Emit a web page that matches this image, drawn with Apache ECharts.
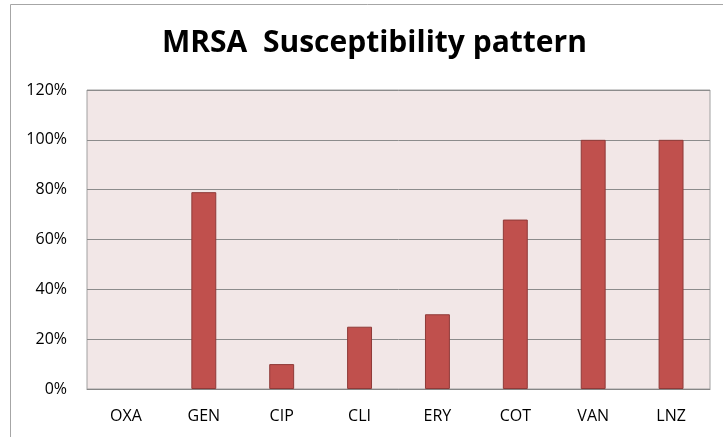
<!DOCTYPE html>
<html>
<head>
<meta charset="utf-8">
<script src="https://cdn.jsdelivr.net/npm/echarts@6/dist/echarts.min.js"></script>
<style>
  html, body { margin: 0; padding: 0; background: #fff; }
  #chart { width: 723px; height: 437px; }
</style>
</head>
<body>
<div id="chart"></div>
<script>
// data
var drugs = ["OXA", "GEN", "CIP", "CLI", "ERY", "COT", "VAN", "LNZ"];
var susceptible = [0, 79, 10, 25, 30, 68, 100, 100];

var chart = echarts.init(document.getElementById("chart"));

// zero bars get no outline, so nothing shows up for OXA
var barData = susceptible.map(function (v) {
  return v === 0 ? { value: v, itemStyle: { borderWidth: 0 } } : v;
});

var option = {
  backgroundColor: "#ffffff",
  animation: false,
  title: {
    text: "MRSA  Susceptibility pattern",
    left: 157,
    top: 23,
    textStyle: {
      fontFamily: "Open Sans",
      fontWeight: "bold",
      fontSize: 30,
      color: "#000"
    }
  },
  // outer chart frame
  graphic: [
    {
      type: "rect",
      shape: { x: 10.5, y: 4.5, width: 760, height: 480 },
      style: { fill: null, stroke: "#a6a6a6", lineWidth: 1 },
      silent: true
    }
  ],
  grid: {
    left: 87,
    right: 13,
    top: 90,
    bottom: 48,
    show: true,
    backgroundColor: "#f2e7e7",
    borderColor: "#a0a0a0",
    borderWidth: 1
  },
  xAxis: {
    type: "category",
    data: drugs,
    axisLine: { show: true, lineStyle: { color: "#868686", width: 1 } },
    axisTick: { show: false },
    axisLabel: {
      margin: 19,
      fontFamily: "Open Sans",
      fontSize: 16,
      color: "#000"
    }
  },
  yAxis: {
    type: "value",
    min: 0,
    max: 120,
    interval: 20,
    axisLine: { show: false },
    axisTick: { show: false },
    splitLine: { lineStyle: { color: "#8c8c8c", width: 1 } },
    axisLabel: {
      margin: 20,
      fontFamily: "Open Sans",
      fontSize: 16,
      color: "#000",
      formatter: "{value}%"
    }
  },
  series: [
    {
      name: "Susceptibility",
      type: "bar",
      data: barData,
      barWidth: "32%",
      itemStyle: {
        color: "#c0504d",
        borderColor: "#8f3a38",
        borderWidth: 1
      }
    }
  ]
};

chart.setOption(option);
</script>
</body>
</html>
